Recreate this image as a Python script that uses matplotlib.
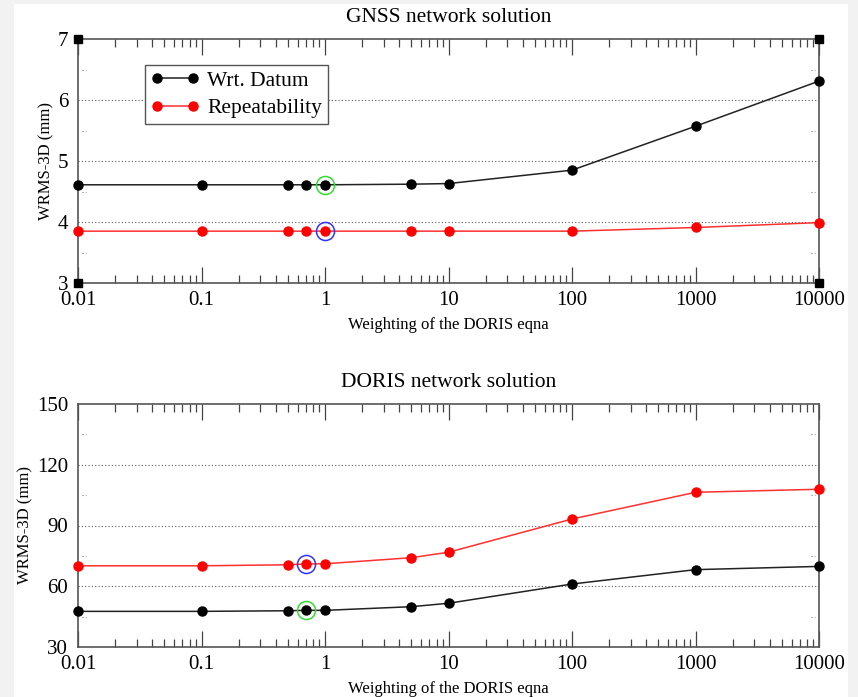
import numpy as np
import matplotlib
matplotlib.use("Agg")
import matplotlib.pyplot as plt
from matplotlib.patches import Rectangle

plt.rcParams['font.family'] = ['Liberation Serif', 'DejaVu Serif']

weights = [0.01, 0.1, 0.5, 0.7, 1, 5, 10, 100, 1000, 10000]

gnss_datum = [4.61, 4.61, 4.61, 4.61, 4.61, 4.62, 4.63, 4.85, 5.57, 6.31]
gnss_repeat = [3.85, 3.85, 3.85, 3.85, 3.85, 3.85, 3.85, 3.85, 3.91, 3.99]
gnss_pick = 1.0

doris_datum = [47.6, 47.6, 47.9, 48.1, 48.1, 49.9, 51.6, 61.1, 68.2, 69.8]
doris_repeat = [70.1, 70.1, 70.6, 71.0, 71.1, 74.1, 76.8, 93.2, 106.4, 107.9]
doris_pick = 0.7

panels = [
    dict(title="GNSS network solution", datum=gnss_datum, repeat=gnss_repeat,
         pick=gnss_pick, ylim=(3, 7), major=[3, 4, 5, 6, 7], minor=[3.5, 4.5, 5.5, 6.5],
         legend=True, corners=True),
    dict(title="DORIS network solution", datum=doris_datum, repeat=doris_repeat,
         pick=doris_pick, ylim=(30, 150), major=[30, 60, 90, 120, 150], minor=[45, 75, 105, 135],
         legend=False, corners=False),
]

fig = plt.figure(figsize=(8.58, 6.97), dpi=100, facecolor='#f2f2f2')
fig.patches.append(Rectangle((14 / 858, 0), 834 / 858, 693 / 697, transform=fig.transFigure,
                             facecolor='white', edgecolor='none', zorder=-10))

boxes = [[78 / 858, 1 - 283 / 697, 741 / 858, 244 / 697],
         [78 / 858, 1 - 647 / 697, 741 / 858, 243 / 697]]

for box, p in zip(boxes, panels):
    ax = fig.add_axes(box)
    ax.set_facecolor('white')
    ax.set_xscale('log')
    ax.set_xlim(0.01, 10000)
    ax.set_ylim(*p['ylim'])

    ax.plot(weights, p['datum'], '-o', color='#222222', mfc='black', mec='black',
            ms=6.5, lw=1.1, label='Wrt. Datum', clip_on=False, zorder=4)
    ax.plot(weights, p['repeat'], '-o', color='#ff3030', mfc='#ff0000', mec='#ff0000',
            ms=6.5, lw=1.1, label='Repeatability', clip_on=False, zorder=4)

    i = weights.index(p['pick'])
    ax.plot(p['pick'], p['datum'][i], 'o', mfc='none', mec='#33dd33', ms=13, mew=1.1, zorder=5)
    ax.plot(p['pick'], p['repeat'][i], 'o', mfc='none', mec='#3333ff', ms=13, mew=1.1, zorder=5)

    for yv in p['major'][1:-1]:
        ax.axhline(yv, color='#555555', lw=0.8, ls=(0, (1, 2)), zorder=1)
    for yv in p['minor']:
        ax.axhline(yv, xmin=0.006, xmax=0.011, color='#777777', lw=0.8, ls=(0, (1, 2)), zorder=1)
        ax.axhline(yv, xmin=0.989, xmax=0.994, color='#777777', lw=0.8, ls=(0, (1, 2)), zorder=1)

    if p['corners']:
        x0, x1 = ax.get_xlim()
        y0, y1 = ax.get_ylim()
        ax.plot([x0, x0, x1, x1], [y0, y1, y0, y1], 's', color='black', ms=6,
                ls='none', clip_on=False, zorder=6)

    ax.set_yticks(p['major'])
    ax.set_yticklabels([str(v) for v in p['major']])
    ax.tick_params(axis='y', length=0, pad=7, labelsize=15)
    ax.set_xticks(weights[:1] + [0.1, 1, 10, 100, 1000, 10000])
    ax.set_xticklabels(['0.01', '0.1', '1', '10', '100', '1000', '10000'])
    ax.tick_params(axis='x', which='major', direction='in', length=11.5, width=0.9,
                   top=True, labelsize=15, pad=6, color='#444444')
    ax.tick_params(axis='x', which='minor', direction='in', length=5.8, width=0.9,
                   top=True, color='#444444')
    for s in ax.spines.values():
        s.set_color('#555555')
        s.set_linewidth(1.2)

    ax.set_title(p['title'], fontsize=15.5, pad=12)
    ax.set_xlabel("Weighting of the DORIS eqna", fontsize=12, labelpad=5)
    ax.set_ylabel("WRMS-3D (mm)", fontsize=12, labelpad=2.5)

    if p['legend']:
        leg = ax.legend(loc='upper left', bbox_to_anchor=(0.0904, 0.893), borderaxespad=0,
                        fontsize=15.5, numpoints=2, fancybox=False, edgecolor='#555555',
                        framealpha=1, handlelength=2.3, borderpad=0.25, labelspacing=0.35,
                        handletextpad=0.35)
        leg.get_frame().set_linewidth(1.0)

fig.savefig("out.png", dpi=100, facecolor=fig.get_facecolor())
